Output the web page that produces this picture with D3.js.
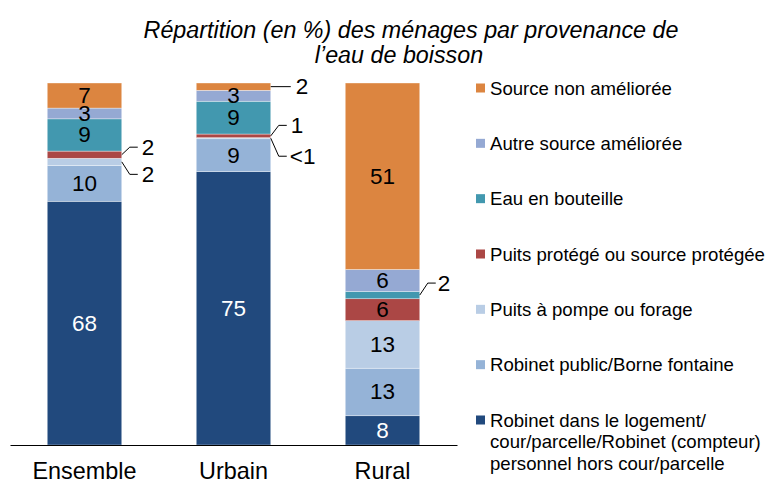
<!DOCTYPE html>
<html><head><meta charset="utf-8">
<script src="https://cdn.jsdelivr.net/npm/d3@7"></script>
<style>
html,body{margin:0;padding:0;background:#fff;}
text{font-family:"Liberation Sans",Arial,sans-serif;}
</style></head>
<body>
<svg id="chart" width="766" height="484"></svg>
<script>
// ---- data ----
const categories = ["Ensemble", "Urbain", "Rural"];
const seriesKeys = ["robinetLogement","robinetPublic","puitsPompe","puitsProtege","eauBouteille","autreAmelioree","nonAmelioree"];
const seriesNames = [
  "Robinet dans le logement/\ncour/parcelle/Robinet (compteur)\npersonnel hors cour/parcelle",
  "Robinet public/Borne fontaine",
  "Puits à pompe ou forage",
  "Puits protégé ou source protégée",
  "Eau en bouteille",
  "Autre source améliorée",
  "Source non améliorée"
];
const robinetLogement = [68, 75, 8];
const robinetPublic   = [10, 9, 13];
const puitsPompe      = [2, 0.3, 13];
const puitsProtege    = [2, 1, 6];
const eauBouteille    = [9, 9, 2];
const autreAmelioree  = [3, 3, 6];
const nonAmelioree    = [7, 2, 51];
const labelOverrides = {"Urbain|puitsPompe": "<1"};
const colors = ["#21497D","#95B3D7","#B9CDE5","#AB4745","#4298AF","#95A9D3","#DC8540"];
// outside callouts (category, series, vertical offset of label, extra dx)
const callouts = [
  {cat:"Ensemble", key:"puitsProtege", dy:-7.5, dx:0},
  {cat:"Ensemble", key:"puitsPompe",   dy:12.5, dx:0},
  {cat:"Urbain",   key:"nonAmelioree", dy:0,    dx:5},
  {cat:"Urbain",   key:"puitsProtege", dy:-10.5,dx:0},
  {cat:"Urbain",   key:"puitsPompe",   dy:18,   dx:-1},
  {cat:"Rural",    key:"eauBouteille", dy:-12,  dx:-2}
];

const seriesValues = {robinetLogement, robinetPublic, puitsPompe, puitsProtege, eauBouteille, autreAmelioree, nonAmelioree};
const table = categories.map((c,i) => {
  const row = {cat:c};
  seriesKeys.forEach(k => row[k] = seriesValues[k][i]);
  return row;
});

const svg = d3.select("#chart");
const x = d3.scaleBand().domain(categories).range([10, 457]).paddingInner(0.5).paddingOuter(0.25);
const y = d3.scaleLinear().domain([0, 1]).range([445, 83]);
const color = d3.scaleOrdinal().domain(seriesKeys).range(colors);

const stack = d3.stack().keys(seriesKeys).offset(d3.stackOffsetExpand);
const layers = stack(table);

const g = svg.append("g");
const layerG = g.selectAll("g.layer").data(layers).join("g").attr("class","layer")
  .attr("fill", d => color(d.key));
layerG.selectAll("rect").data(d => d.map(p => ({p, key:d.key}))).join("rect")
  .attr("x", d => x(d.p.data.cat))
  .attr("width", x.bandwidth())
  .attr("y", d => y(d.p[1]))
  .attr("height", d => y(d.p[0]) - y(d.p[1]))
  .attr("stroke", "#fff").attr("stroke-width", 0.6).attr("stroke-opacity", 0.6);

// inside labels
const isCallout = (cat,key) => callouts.some(c => c.cat===cat && c.key===key);
layers.forEach(layer => {
  layer.forEach(p => {
    const cat = p.data.cat;
    if (isCallout(cat, layer.key)) return;
    const txt = labelOverrides[cat+"|"+layer.key] || String(p.data[layer.key]);
    g.append("text")
      .attr("x", x(cat) + x.bandwidth()/2)
      .attr("y", (y(p[0]) + y(p[1]))/2)
      .attr("text-anchor","middle").attr("dominant-baseline","central")
      .attr("font-size", 22.5)
      .attr("fill", layer.key === "robinetLogement" ? "#fff" : "#000")
      .text(txt);
  });
});

// callouts
callouts.forEach(c => {
  const layer = layers.find(l => l.key === c.key);
  const p = layer[categories.indexOf(c.cat)];
  const mid = (y(p[0]) + y(p[1]))/2;
  const x0 = x(c.cat) + x.bandwidth();
  const ly = mid + c.dy;
  const pts = c.dy === 0 ? [[x0, mid],[x0+20, ly]] : [[x0, mid],[x0+8, ly],[x0+16, ly]];
  g.append("path").attr("d", d3.line()(pts)).attr("fill","none").attr("stroke","#000").attr("stroke-width",1);
  const txt = labelOverrides[c.cat+"|"+c.key] || String(seriesValues[c.key][categories.indexOf(c.cat)]);
  g.append("text").attr("x", x0 + 20 + c.dx).attr("y", ly)
    .attr("dominant-baseline","central").attr("font-size", 22.5).attr("fill","#000").text(txt);
});

// axis
const axis = svg.append("g").attr("transform","translate(0,445)")
  .call(d3.axisBottom(x).tickSize(0).tickSizeOuter(0).tickPadding(17));
axis.select(".domain").attr("stroke","#000").attr("stroke-width",1);
axis.selectAll(".tick text").attr("font-size", 23.4).attr("fill","#000")
  .attr("font-family","'Liberation Sans',Arial,sans-serif");

// title
const title = svg.append("text").attr("font-size", 23.3).attr("font-style","italic").attr("fill","#000");
title.append("tspan").attr("x", 411).attr("y", 38).attr("text-anchor","middle").text("Répartition (en %) des ménages par provenance de");
title.append("tspan").attr("x", 399).attr("y", 63).attr("text-anchor","middle").text("l’eau de boisson");

// legend
const legendY = d3.scalePoint().domain(seriesKeys.slice().reverse()).range([88, 420]);
const lg = svg.append("g");
seriesKeys.forEach((k,i) => {
  const cy = legendY(k);
  lg.append("rect").attr("x", 476).attr("y", cy-4.5).attr("width", 9).attr("height", 9).attr("fill", color(k));
  const lines = seriesNames[i].split("\n");
  const t = lg.append("text").attr("font-size", 18.6).attr("fill","#000");
  lines.forEach((ln,j) => {
    t.append("tspan").attr("x", 490).attr("y", cy + j*21.5).attr("dominant-baseline","central").text(ln);
  });
});
</script>
</body></html>
